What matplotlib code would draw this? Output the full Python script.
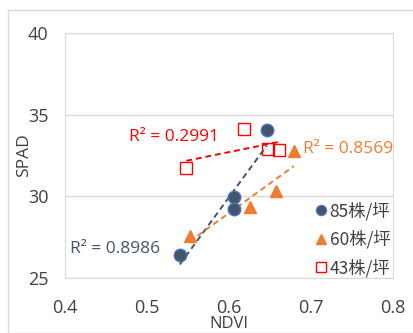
import numpy as np
import matplotlib
matplotlib.use("Agg")
import matplotlib.pyplot as plt
from matplotlib.patches import Rectangle

plt.rcParams['font.family'] = ['Open Sans', 'Noto Sans CJK SC', 'DejaVu Sans']

x85 = [0.540, 0.606, 0.606, 0.646]
y85 = [26.4, 29.95, 29.25, 34.05]
x60 = [0.552, 0.626, 0.657, 0.679]
y60 = [27.6, 29.35, 30.3, 32.8]
x43 = [0.548, 0.618, 0.648, 0.661]
y43 = [31.75, 34.1, 32.9, 32.85]
labels = ['85株/坪', '60株/坪', '43株/坪']
r2_texts = ['R² = 0.8986', 'R² = 0.8569', 'R² = 0.2991']

c_blue = '#44546A'
c_orange = '#ED7D31'
c_red = '#FF0000'

fig = plt.figure(figsize=(4.13, 3.33), dpi=100)
fig.patches.append(Rectangle((8/413, 0), 1, 1 - 10/333, transform=fig.transFigure,
                             fill=False, edgecolor='#D9D9D9', lw=1))
ax = fig.add_axes([65/413, 1 - 278/333, (393-65)/413, (278-33)/333])

def trend(x, y, color):
    p = np.polyfit(x, y, 1)
    xs = np.array([min(x), max(x)])
    ax.plot(xs, np.polyval(p, xs), ls=(0, (3, 2)), color=color, lw=1.4, zorder=2)

trend(x85, y85, c_blue)
trend(x60, y60, c_orange)
trend(x43, y43, c_red)

ax.plot(x85, y85, 'o', ms=9, mfc=c_blue, mec='#4A72C0', mew=1, ls='none', label=labels[0], zorder=3)
ax.plot(x60, y60, '^', ms=9, mfc=c_orange, mec=c_orange, ls='none', label=labels[1], zorder=3)
ax.plot(x43, y43, 's', ms=9, mfc='none', mec=c_red, mew=1, ls='none', label=labels[2], zorder=3)

ax.text(0.406, 26.75, r2_texts[0], color=c_blue, fontsize=12.5, va='center', ha='left')
ax.text(0.690, 32.9, r2_texts[1], color=c_orange, fontsize=12.5, va='center', ha='left')
ax.text(0.478, 33.65, r2_texts[2], color=c_red, fontsize=12.5, va='center', ha='left')

ax.set_xlim(0.4, 0.8)
ax.set_ylim(25, 40)
ax.set_xticks([0.4, 0.5, 0.6, 0.7, 0.8])
ax.set_xticklabels(['0.4', '0.5', '0.6', '0.7', '0.8'])
ax.set_yticks([25, 30, 35, 40])
ax.grid(axis='y', color='#D9D9D9', lw=1)
ax.set_axisbelow(True)
for s in ax.spines.values():
    s.set_color('#D9D9D9')
ax.tick_params(length=0, labelsize=13, colors='#404040')
ax.tick_params(axis='x', pad=15)
ax.tick_params(axis='y', pad=12)
ax.set_xlabel('NDVI', fontsize=12, color='#404040')
ax.set_ylabel('SPAD', fontsize=12.5, color='#404040')
ax.xaxis.label.set_va('center')
ax.yaxis.label.set_va('center')
ax.yaxis.label.set_ha('center')
ax.xaxis.set_label_coords(0.5, (278 - 324) / 245)
ax.yaxis.set_label_coords((24 - 65) / 328, 0.5)

leg = ax.legend(loc='lower right', frameon=False, handletextpad=0.0,
                handlelength=1.0, labelspacing=0.57, borderaxespad=0.1,
                markerscale=0.8,
                bbox_to_anchor=(1 + 6 / 328, -8 / 245),
                prop={'family': ['Noto Sans CJK SC', 'DejaVu Sans'], 'size': 12.5})
for t in leg.get_texts():
    t.set_color('#404040')

fig.savefig('out.png', dpi=100)
